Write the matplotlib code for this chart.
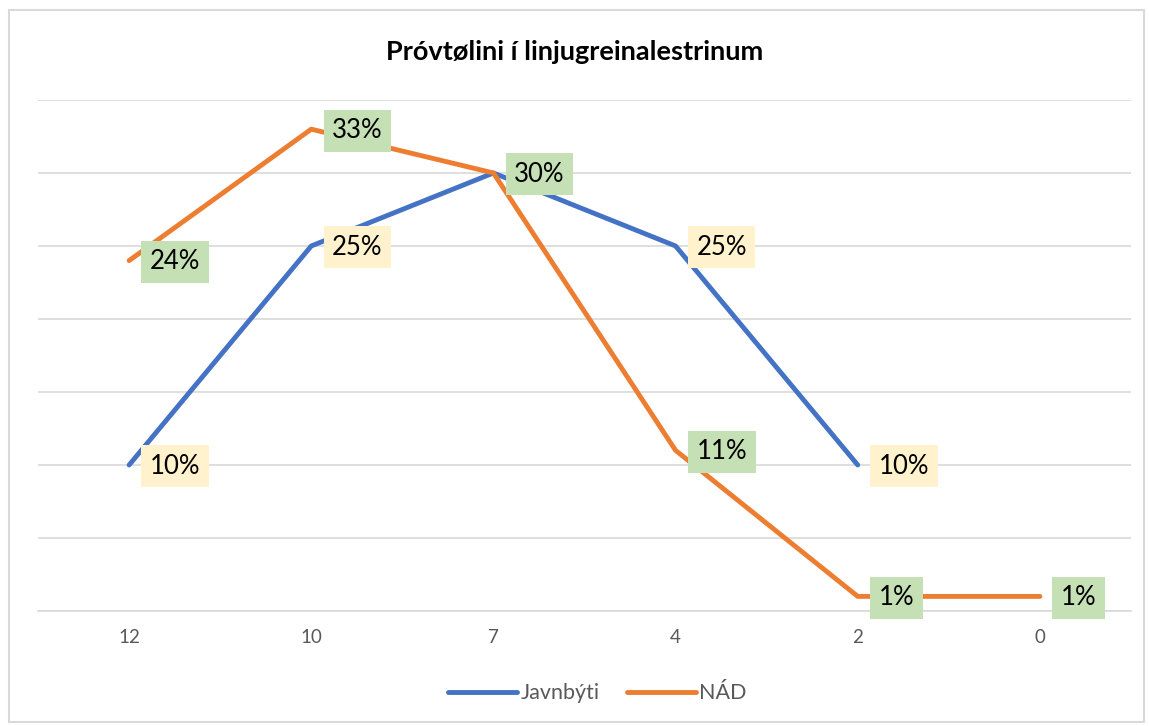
import matplotlib.pyplot as plt
from matplotlib.patches import Rectangle

plt.rcParams['font.family'] = ['Lato', 'DejaVu Sans']

categories = ["12", "10", "7", "4", "2", "0"]
javnbyti = [10, 25, 30, 25, 10]
nad = [24, 33, 30, 11, 1, 1]

blue = "#4472C4"
orange = "#ED7D31"
yellow_box = "#FFF2CC"
green_box = "#C5E0B4"

fig = plt.figure(figsize=(11.49, 7.26), dpi=100)
fig.patches.append(Rectangle((0.008, 0.005), 0.988, 0.981, transform=fig.transFigure,
                             fill=False, edgecolor="#D9D9D9", linewidth=1.5))
ax = fig.add_axes([0.0331, 0.1584, 0.9512, 0.7039])

x_j = list(range(len(javnbyti)))
x_n = list(range(len(nad)))
ax.plot(x_j, javnbyti, color=blue, linewidth=3.5, solid_capstyle="round",
        solid_joinstyle="round", label="Javnbýti", zorder=3)
ax.plot(x_n, nad, color=orange, linewidth=3.5, solid_capstyle="round",
        solid_joinstyle="round", label="NÁD", zorder=3)


def add_labels(xs, ys, face):
    for x, y in zip(xs, ys):
        ax.annotate(f"{y}%", (x, y), xytext=(15, -1), textcoords="offset points",
                    ha="left", va="center", fontsize=18.5, color="black", zorder=5,
                    bbox=dict(boxstyle="square,pad=0.33", facecolor=face, edgecolor="none"))


add_labels(x_j, javnbyti, yellow_box)
add_labels(x_n, nad, green_box)

ax.set_xlim(-0.5, len(categories) - 0.5)
ax.set_ylim(0, 35)
ax.set_yticks(range(0, 36, 5))
ax.set_yticklabels([])
ax.set_xticks(range(len(categories)))
ax.set_xticklabels(categories, fontsize=13.5, color="#595959")
ax.tick_params(axis="both", length=0)
ax.tick_params(axis="x", pad=13)
ax.grid(axis="y", color="#D9D9D9", linewidth=1.2)
ax.set_axisbelow(True)
for side in ["top", "right", "left"]:
    ax.spines[side].set_visible(False)
ax.spines["bottom"].set_color("#D9D9D9")
ax.spines["bottom"].set_linewidth(1.2)

fig.text(0.5, 0.929, "Próvtølini í linjugreinalestrinum", ha="center", va="center",
         fontsize=19.5, fontweight="bold", color="black")

fig.legend(loc="center", bbox_to_anchor=(0.52, 0.045), ncol=2, frameon=False,
           fontsize=15.5, handlelength=3.2, handletextpad=0.15, columnspacing=1.3,
           labelcolor="#595959")

fig.savefig("out.png", dpi=100)
